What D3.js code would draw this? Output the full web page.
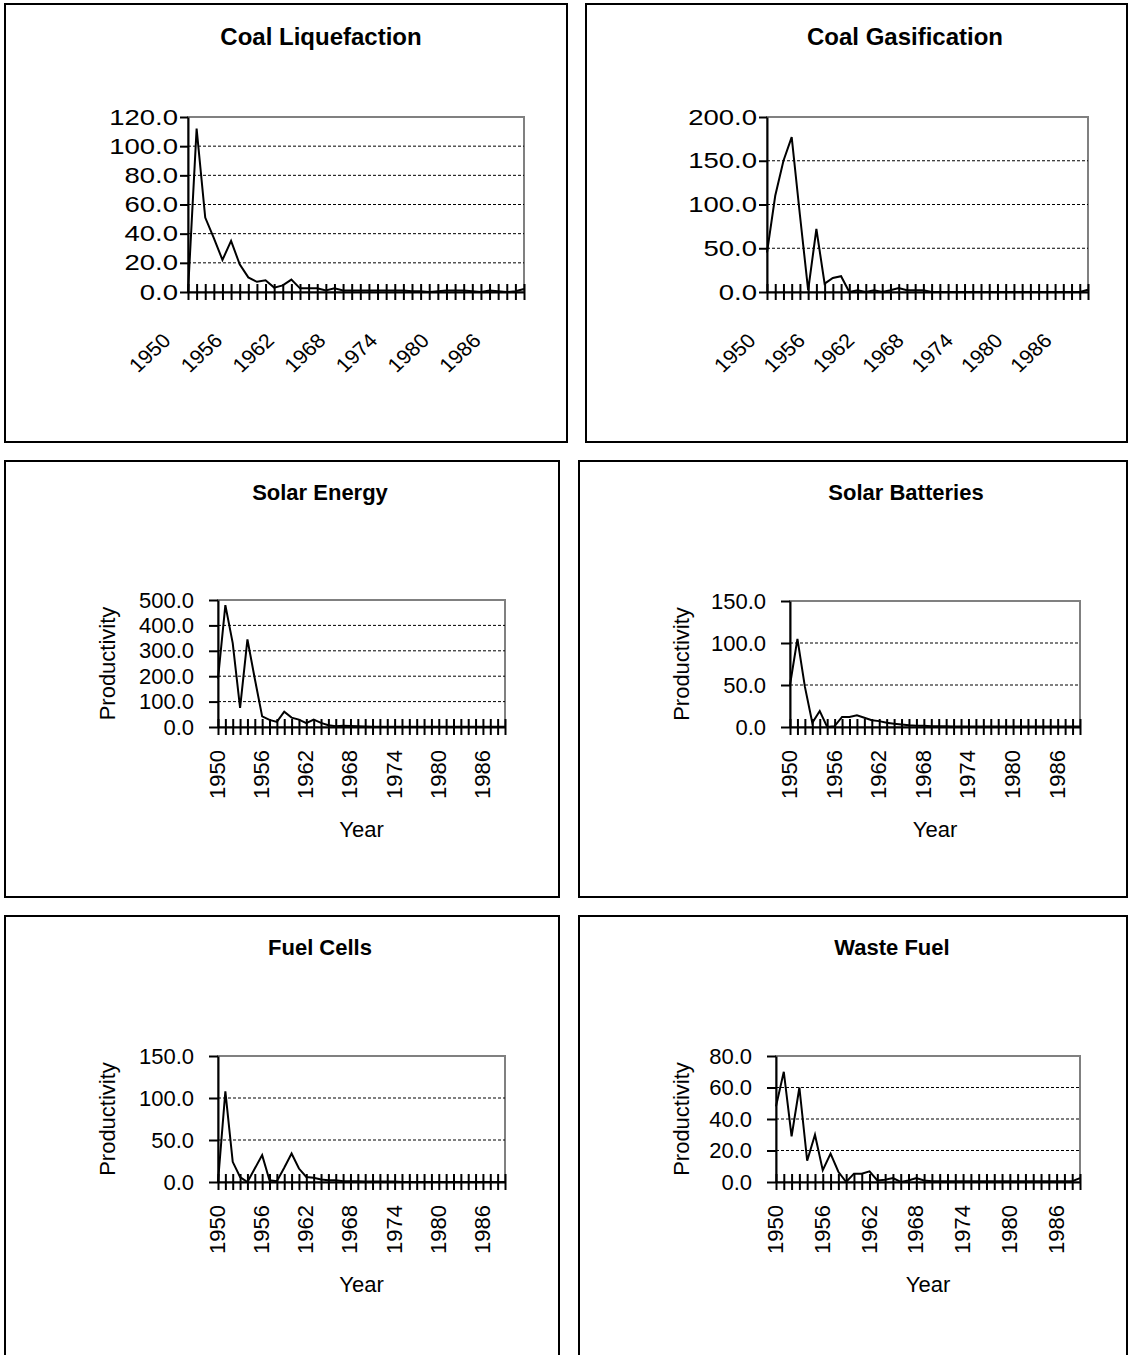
<!DOCTYPE html>
<html><head><meta charset="utf-8">
<script src="https://cdn.jsdelivr.net/npm/d3@7"></script>
<style>
body{margin:0;background:#fff}
svg{display:block}
text{font-family:"Liberation Sans",Arial,Helvetica,sans-serif;fill:#000}
</style>
</head><body>
<svg id="chart" width="1130" height="1355"></svg>
<script>
// ---------- DATA ----------
const years = [1950,1951,1952,1953,1954,1955,1956,1957,1958,1959,
               1960,1961,1962,1963,1964,1965,1966,1967,1968,1969,
               1970,1971,1972,1973,1974,1975,1976,1977,1978,1979,
               1980,1981,1982,1983,1984,1985,1986,1987,1988,1989];
const yearTickLabels = [1950,1956,1962,1968,1974,1980,1986];

const coalLiquefaction = [0,112,51,37,22,35,19,10,7,8, 3,4.5,8.5,2.5,2.5,2.5,1,2.5,1,1,
                          1,1,1,1,1,1,0.5,0.5,0,0.5, 1,1,1,0.5,0,1,0.5,0,0.5,2];
const coalGasification = [45,110,150,177,88,2,72,9.5,16,18, 0,2,0,2,0,2,4.5,2,2,2,
                          0,0,0,0,0,0,0,0,0,0, 0,0,0,0,0,0,0,0,0,2.5];
const solarEnergy      = [190,480,330,75,345,190,42,28,20,60, 37,29,15,29,16,7,3,5,4,3,
                          2,1,1,1,1,1,1,1,1,1, 1,1,1,1,1,1,1,1,1,1];
const solarBatteries   = [50,105,48,5,19,0,1,12,12,14, 11,8,7,5,4,3,2,1.6,1.6,1,
                          1,1,0.5,0.5,0.5,0.5,0.5,0.5,0.5,0.5, 0.5,0.5,0.5,0.5,0.5,0.5,0.5,0.5,0.5,0.5];
const fuelCells        = [0,108,24,6,0,16,32,2,1,17, 34,16,6,5,3,2,2,1,1,1,
                          0.5,0.5,0.5,0.5,0.5,0,0,0,0,0, 0,0,0,0,0,0,0,0,0,0];
const wasteFuel        = [48,70,29,60,13.5,30,7.5,18,6.5,0, 5.3,5.3,6.8,1,1.5,2.5,0,1,2.5,1,
                          0.5,0.5,0.5,0.5,0.5,0.5,0.5,0.5,0.5,0.5, 0.5,0.5,0.5,0.5,0.5,0.5,0.5,0.5,0.5,2.5];

const coalLiqTicks   = [0,20,40,60,80,100,120];
const coalGasTicks   = [0,50,100,150,200];
const solarEnTicks   = [0,100,200,300,400,500];
const solarBatTicks  = [0,50,100,150];
const fuelCellTicks  = [0,50,100,150];
const wasteFuelTicks = [0,20,40,60,80];

const chartTitles = ["Coal Liquefaction","Coal Gasification","Solar Energy","Solar Batteries","Fuel Cells","Waste Fuel"];
const yAxisTitle = "Productivity";
const xAxisTitle = "Year";

// ---------- LAYOUT ----------
const panels = [
  {title:chartTitles[0], values:coalLiquefaction, ticks:coalLiqTicks,  box:[5,4,562,438],   plot:[188,117,524,292],  titleX:321, titleY:45,  diag:true, labOff:-16, axisTitles:false, sx:1.25, tfs:24},
  {title:chartTitles[1], values:coalGasification, ticks:coalGasTicks,  box:[586,4,541,438], plot:[767,117,1088,292], titleX:905, titleY:45,  diag:true, labOff:-10, axisTitles:false, sx:1.25, tfs:24},
  {title:chartTitles[2], values:solarEnergy,      ticks:solarEnTicks,  box:[5,461,554,436], plot:[218,600,505,727],  titleX:320, titleY:500, diag:false, axisTitles:true, sx:1, tfs:22},
  {title:chartTitles[3], values:solarBatteries,   ticks:solarBatTicks, box:[579,461,548,436], plot:[790,601,1080,727], titleX:906, titleY:500, diag:false, axisTitles:true, sx:1, tfs:22},
  {title:chartTitles[4], values:fuelCells,        ticks:fuelCellTicks, box:[5,916,554,460], plot:[218,1056,505,1182], titleX:320, titleY:955, diag:false, axisTitles:true, sx:1, tfs:22},
  {title:chartTitles[5], values:wasteFuel,        ticks:wasteFuelTicks,box:[579,916,548,460], plot:[776,1056,1080,1182], titleX:892, titleY:955, diag:false, axisTitles:true, sx:1, tfs:22}
];

const svg = d3.select("#chart");
svg.append("rect").attr("width",1130).attr("height",1355).attr("fill","#fff");
const fmt = d3.format(".1f");
const FS = 22;

panels.forEach(p => {
  const g = svg.append("g");
  const [bx,by,bw,bh] = p.box;
  g.append("rect").attr("x",bx).attr("y",by).attr("width",bw).attr("height",bh)
    .attr("fill","#fff").attr("stroke","#000").attr("stroke-width",2);

  // title
  g.append("text").attr("x",p.titleX).attr("y",p.titleY)
    .attr("text-anchor","middle").attr("font-weight","bold").attr("font-size",p.tfs).text(p.title);

  const [x0,y0,x1,y1] = p.plot;
  const x = d3.scalePoint().domain(years).range([x0,x1]);
  const yMax = p.ticks[p.ticks.length-1];
  const y = d3.scaleLinear().domain([0,yMax]).range([y1,y0]);

  // plot border (gray)
  g.append("rect").attr("x",x0).attr("y",y(yMax)).attr("width",x1-x0).attr("height",y(0)-y(yMax))
    .attr("fill","none").attr("stroke","#808080").attr("stroke-width",2);

  // gridlines
  g.append("g").selectAll("line").data(p.ticks.filter(t=>t>0 && t<yMax)).join("line")
    .attr("x1",x0).attr("x2",x1).attr("y1",d=>y(d)).attr("y2",d=>y(d))
    .attr("stroke","#000").attr("stroke-width",1).attr("stroke-dasharray","3,2");

  // y axis
  const ya = g.append("g").attr("transform",`translate(${x0},0)`)
    .call(d3.axisLeft(y).tickValues(p.ticks).tickFormat(fmt).tickSize(p.diag?8:9).tickPadding(p.diag?2:15).tickSizeOuter(0));
  ya.select(".domain").attr("stroke","#000").attr("stroke-width",2);
  ya.selectAll(".tick line").attr("stroke","#000").attr("stroke-width",2);
  ya.selectAll(".tick text").attr("font-size",FS).attr("font-family",null)
    .each(function(){
      const t = d3.select(this);
      if (p.sx !== 1) {
        const xx = +t.attr("x");
        t.attr("x",null).attr("transform",`translate(${xx},0) scale(${p.sx},1)`);
      }
    });

  // x axis with crossing ticks
  const xa = g.append("g").attr("transform",`translate(0,${y(0)})`)
    .call(d3.axisBottom(x).tickSize(8).tickFormat("").tickSizeOuter(0));
  xa.select(".domain").attr("stroke","#000").attr("stroke-width",2);
  xa.selectAll(".tick line").attr("y1",-8).attr("y2",8).attr("stroke","#000").attr("stroke-width",2);

  // x tick labels
  const lab = g.append("g");
  if (p.diag) {
    lab.selectAll("text").data(yearTickLabels).join("text")
      .attr("transform",d=>`translate(${x(d)+p.labOff},${y(0)+50}) scale(1.08,1) rotate(-45)`)
      .attr("text-anchor","end").attr("font-size",20).text(d=>d);
  } else {
    lab.selectAll("text").data(yearTickLabels).join("text")
      .attr("transform",d=>`translate(${x(d)+7},${y(0)+23}) rotate(-90)`)
      .attr("text-anchor","end").attr("font-size",FS).text(d=>d);
  }

  // axis titles
  if (p.axisTitles) {
    g.append("text").attr("transform",`translate(${bx+110},${(y0+y1)/2}) rotate(-90)`)
      .attr("text-anchor","middle").attr("font-size",FS).text(yAxisTitle);
    g.append("text").attr("x",(x0+x1)/2).attr("y",y(0)+110)
      .attr("text-anchor","middle").attr("font-size",FS).text(xAxisTitle);
  }

  // data line
  const line = d3.line().x((d,i)=>x(years[i])).y(d=>y(d));
  g.append("path").datum(p.values).attr("d",line)
    .attr("fill","none").attr("stroke","#000").attr("stroke-width",2).attr("stroke-linejoin","miter");
});
</script>
</body></html>
